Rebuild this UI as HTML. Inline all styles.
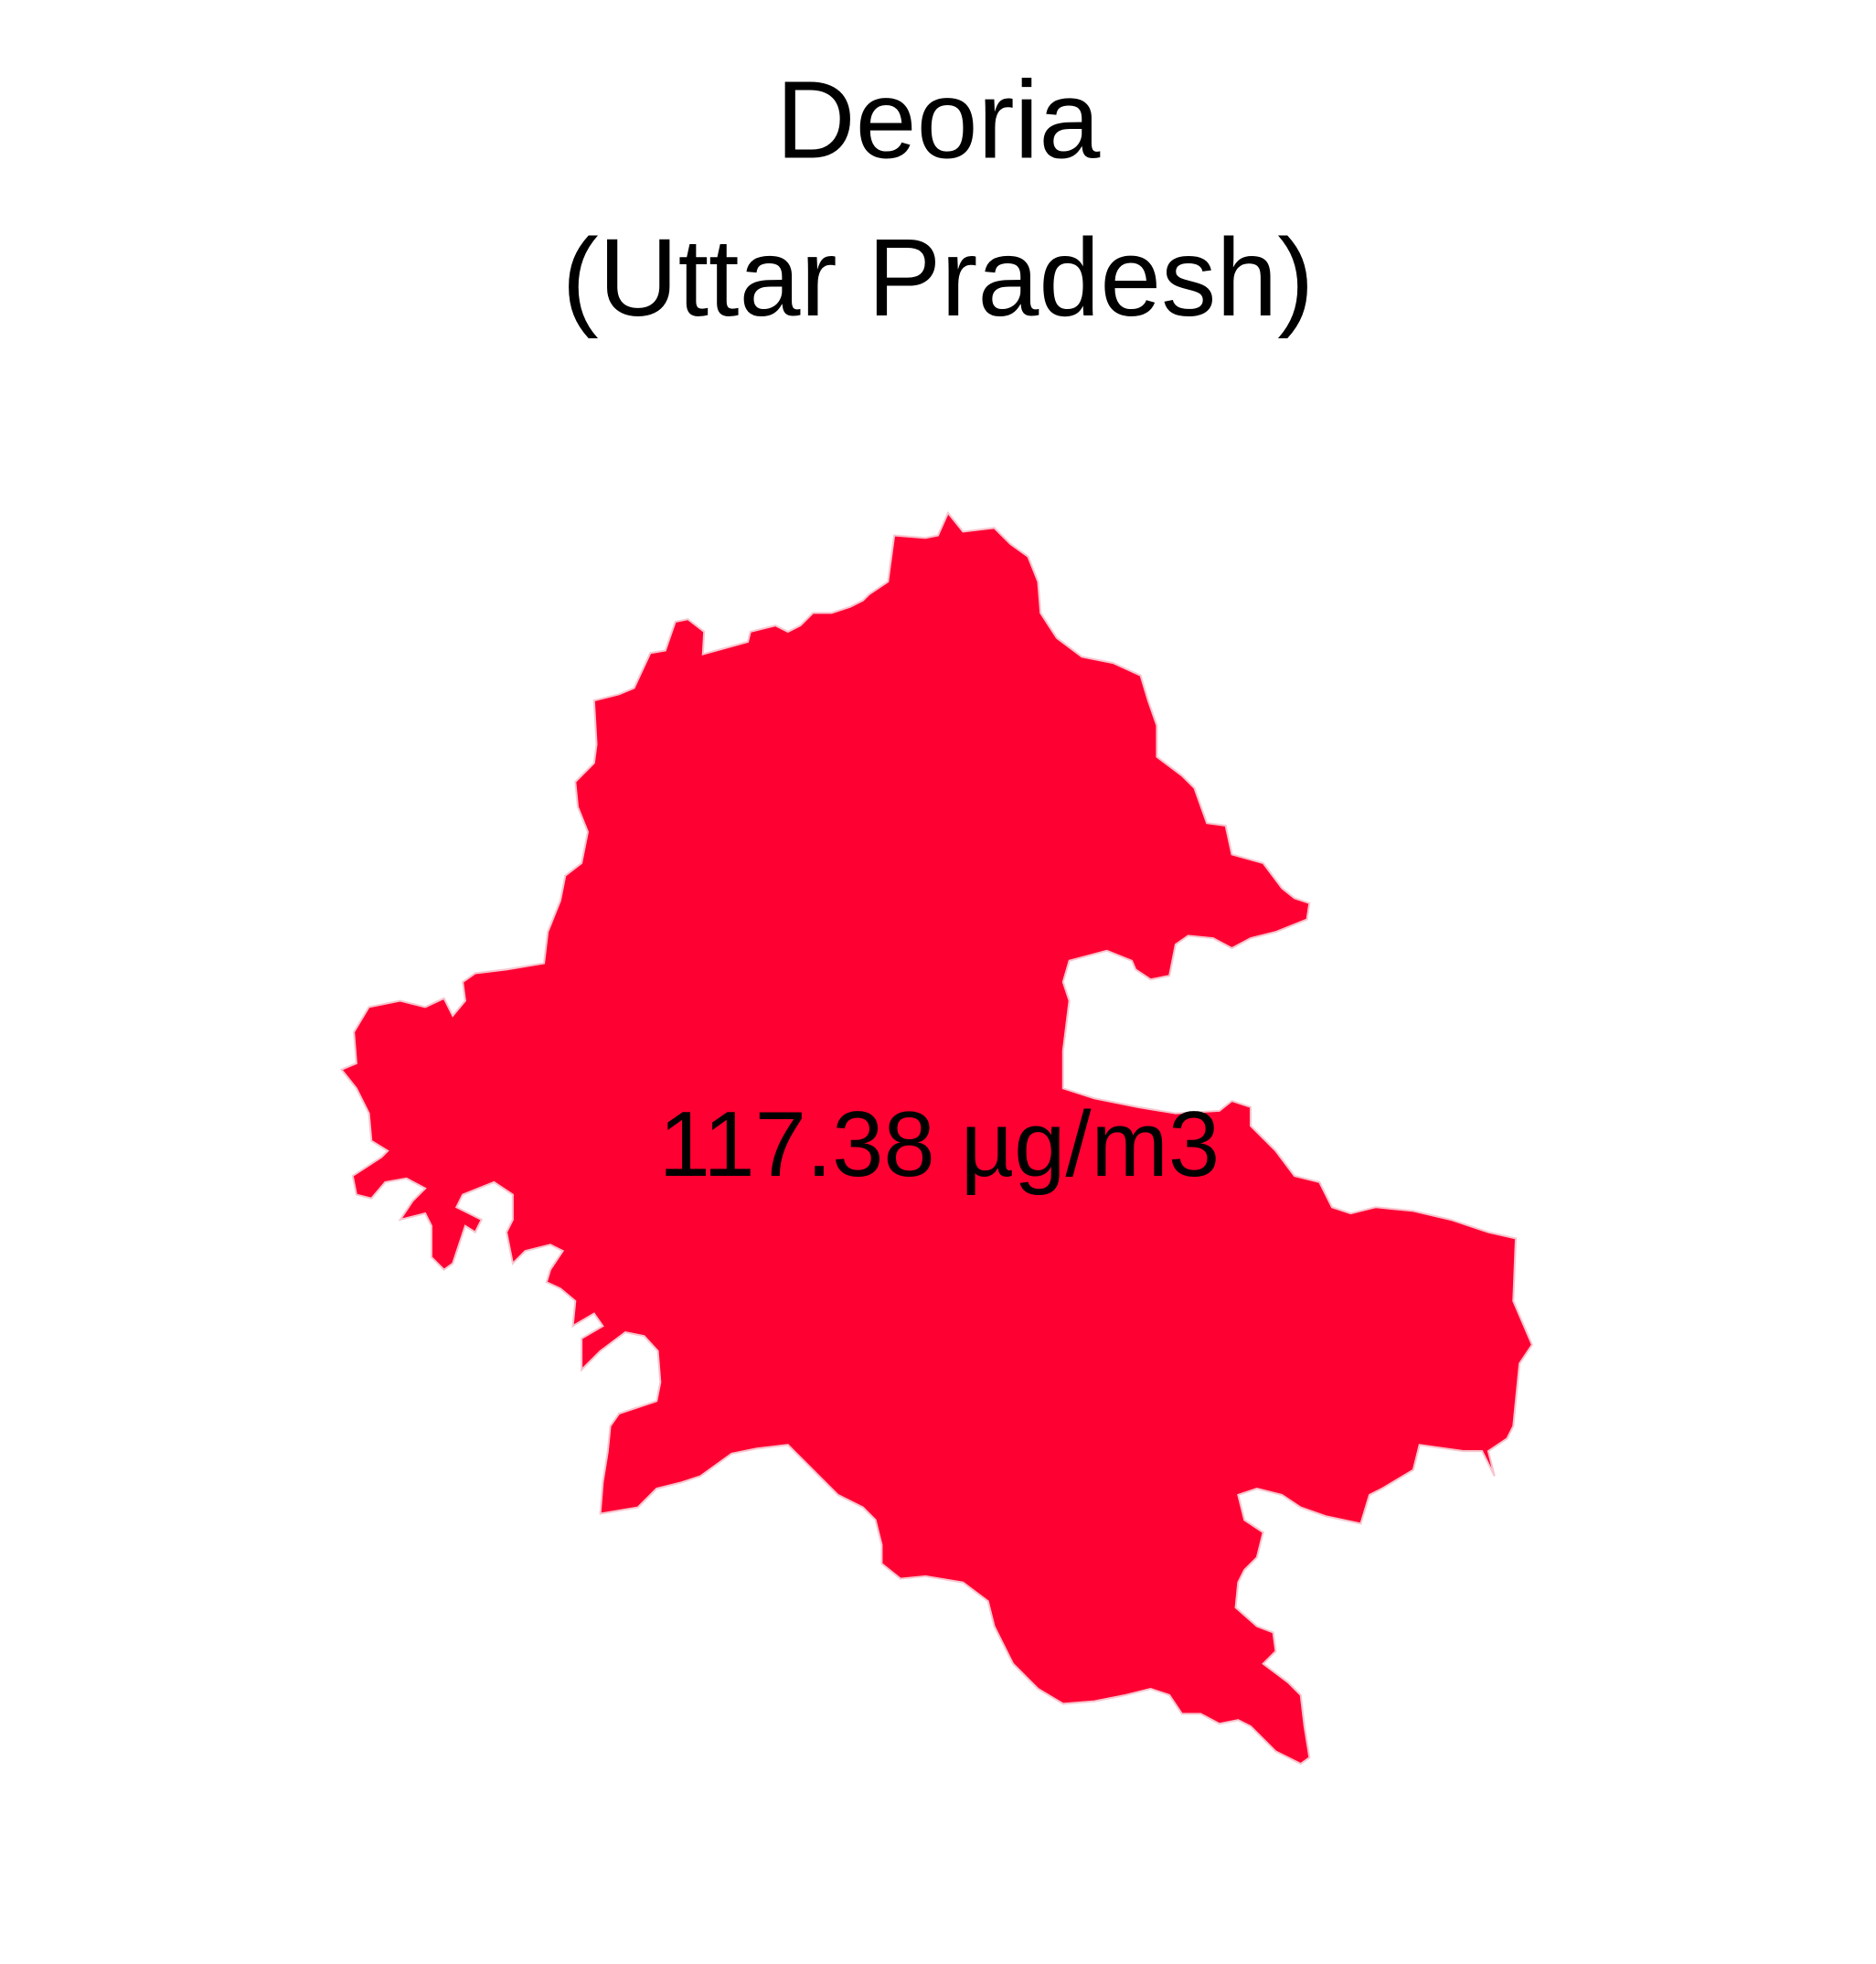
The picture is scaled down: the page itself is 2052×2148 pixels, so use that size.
<!DOCTYPE html>
<html><head><meta charset="utf-8"><style>html,body{margin:0;padding:0;background:#fff}svg{display:block}</style></head>
<body>
<svg width="2052" height="2148" viewBox="0 0 1500 1570" preserveAspectRatio="none">
<rect width="1500" height="1570" fill="#fff"/>
<text x="750" y="126" text-anchor="middle" font-family="Liberation Sans, sans-serif" font-size="88" fill="#000">Deoria</text>
<text x="750" y="252" text-anchor="middle" font-family="Liberation Sans, sans-serif" font-size="88" fill="#000">(Uttar Pradesh)</text>
<polygon fill="#FF0033" stroke="#f7c6cf" stroke-width="1.5" points="758,410 770,425 795,422 808,435 822,445 830,465 832,490 845,510 865,525 890,530 912,540 918,560 925,580 925,605 945,620 955,630 965,658 980,660 985,683 1010,690 1025,710 1035,718 1047,722 1045,735 1020,745 1000,750 985,758 970,750 950,748 940,755 935,780 920,783 908,775 905,768 885,760 855,768 850,785 855,800 850,840 850,870 875,878 910,885 940,890 975,888 985,880 1000,885 1000,900 1020,920 1035,940 1055,945 1065,965 1080,970 1100,965 1130,968 1160,975 1190,985 1212,990 1210,1040 1225,1075 1215,1090 1210,1140 1205,1150 1190,1160 1195,1180 1185,1160 1170,1160 1135,1155 1130,1175 1105,1190 1095,1195 1088,1218 1060,1212 1040,1205 1025,1195 1005,1190 990,1195 995,1215 1010,1225 1005,1245 995,1255 990,1265 988,1285 1005,1300 1018,1305 1020,1320 1010,1330 1030,1345 1040,1355 1043,1380 1047,1405 1040,1410 1020,1400 1000,1380 990,1375 975,1378 960,1370 945,1370 935,1355 920,1350 900,1355 875,1360 850,1362 830,1350 810,1330 795,1300 790,1280 770,1265 740,1260 720,1262 705,1250 705,1235 700,1215 690,1205 670,1195 650,1175 635,1160 630,1155 605,1158 585,1162 560,1180 545,1185 525,1190 510,1205 480,1210 482,1185 486,1160 488,1140 495,1130 525,1120 528,1105 526,1080 515,1068 500,1065 480,1080 465,1095 465,1070 482,1060 475,1050 458,1060 460,1040 448,1030 437,1025 440,1015 450,1000 440,995 420,1000 410,1010 405,985 410,975 410,955 395,945 370,955 365,965 385,975 380,985 372,980 362,1010 355,1015 345,1005 345,980 340,970 320,975 330,960 340,950 325,942 308,945 297,958 285,955 282,940 305,925 310,920 297,912 295,890 285,870 273,855 285,850 283,825 295,805 320,800 340,805 355,798 362,812 372,800 370,785 380,778 405,775 435,770 438,745 448,720 452,700 465,690 470,665 462,645 460,625 475,610 477,595 475,560 495,555 507,550 520,522 532,520 540,497 550,495 563,505 562,523 580,518 598,513 600,505 620,500 630,505 640,500 650,490 665,490 680,485 690,480 695,475 710,465 715,428 740,430 750,428"/>
<text x="751" y="940" text-anchor="middle" font-family="Liberation Sans, sans-serif" font-size="74" fill="#000">117.38 µg/m3</text>
</svg>
</body></html>
